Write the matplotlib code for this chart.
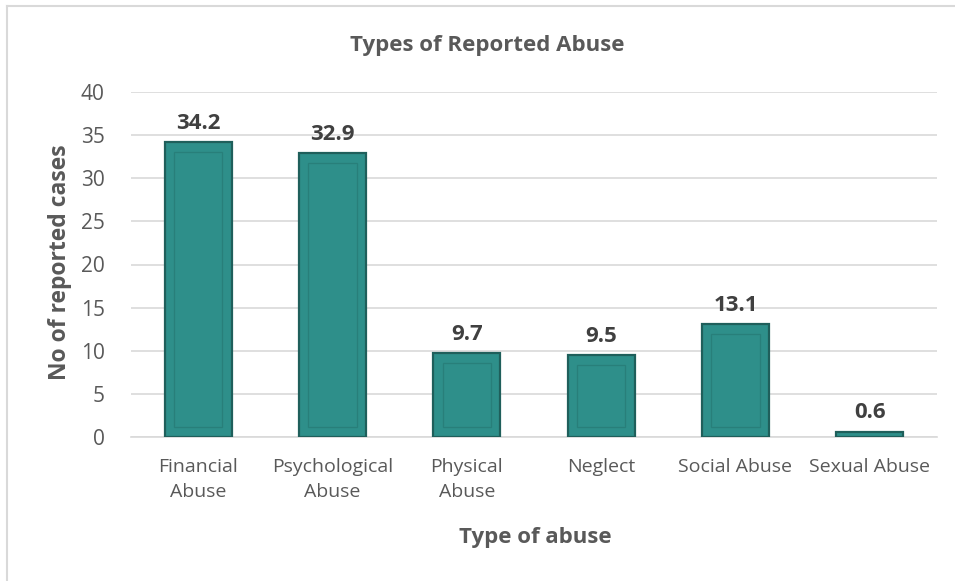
import matplotlib.pyplot as plt
from matplotlib.lines import Line2D

# --- data ---
categories = ["Financial\nAbuse", "Psychological\nAbuse", "Physical\nAbuse",
              "Neglect", "Social Abuse", "Sexual Abuse"]
values = [34.2, 32.9, 9.7, 9.5, 13.1, 0.6]

plt.rcParams["font.family"] = ["Open Sans", "DejaVu Sans"]

W, H = 955, 581
fig = plt.figure(figsize=(W / 100, H / 100), dpi=100)
ax = fig.add_axes([131 / W, 1 - 437 / H, (937 - 131) / W, (437 - 92) / H])

x = list(range(len(categories)))
bar_w = 0.5
fill = "#2E8F8A"
edge = "#1F5F5B"

ax.bar(x, values, width=bar_w, color=fill, edgecolor=edge, linewidth=1.6, zorder=3)

# faint inner outline (bevel look), only where the bar is tall enough
inset = 1.15
tall = [(xi, v) for xi, v in zip(x, values) if v > 2 * inset]
ax.bar([t[0] for t in tall], [t[1] - 2 * inset for t in tall], width=bar_w * 0.72,
       bottom=inset, fill=False, edgecolor="#287F7A", linewidth=0.9, zorder=4)

for xi, v in zip(x, values):
    ax.annotate(f"{v}", (xi, v), xytext=(0, 6), textcoords="offset points",
                ha="center", va="bottom", fontsize=16, fontweight="bold",
                color="#404040")

ax.set_ylim(0, 40)
ax.set_xlim(-0.5, len(categories) - 0.5)
ax.set_yticks(range(0, 41, 5))
ax.set_xticks(x)
ax.set_xticklabels(categories, fontsize=14, color="#595959", linespacing=1.5)
ax.tick_params(axis="y", labelsize=15, labelcolor="#595959", length=0, pad=19)
ax.tick_params(axis="x", length=0, pad=15)
ax.grid(axis="y", color="#D9D9D9", linewidth=1.2, zorder=0)
for s in ["top", "right", "left"]:
    ax.spines[s].set_visible(False)
ax.spines["bottom"].set_color("#D9D9D9")
ax.spines["bottom"].set_linewidth(1.2)

fig.text(487 / W, 1 - 45 / H, "Types of Reported Abuse", ha="center", va="center",
         fontsize=16, fontweight="bold", color="#595959")
fig.text(535 / W, 1 - 537 / H, "Type of abuse", ha="center", va="center",
         fontsize=16, fontweight="bold", color="#595959")
fig.text(60 / W, 1 - 262 / H, "No of reported cases", ha="center", va="center",
         rotation=90, fontsize=16.5, fontweight="bold", color="#595959")

# chart frame (only top and left edges visible in the crop)
fig.add_artist(Line2D([7 / W, 7 / W], [0, 1 - 6 / H], transform=fig.transFigure,
                      color="#D9D9D9", linewidth=1.5))
fig.add_artist(Line2D([7 / W, 1], [1 - 6 / H, 1 - 6 / H], transform=fig.transFigure,
                      color="#D9D9D9", linewidth=1.5))

fig.savefig("out.png", dpi=100)
